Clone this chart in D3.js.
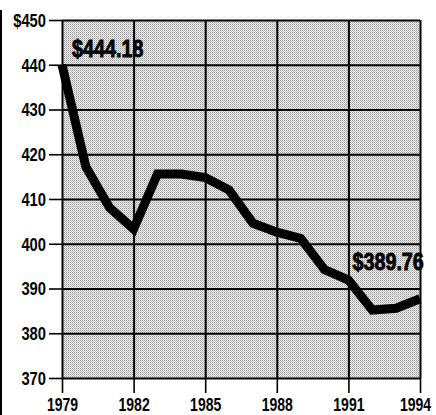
<!DOCTYPE html>
<html><head><meta charset="utf-8">
<script src="https://cdn.jsdelivr.net/npm/d3@7"></script>
<style>
html,body{margin:0;padding:0;background:#fff;}
svg{display:block;}
.lbl{font-family:"Liberation Sans",Arial,sans-serif;}
</style></head>
<body>
<svg id="c" width="436" height="415"></svg>
<script>
const years = [1979,1980,1981,1982,1983,1984,1985,1986,1987,1988,1989,1990,1991,1992,1993,1994];
const values = [440,417.2,408,403.3,415.6,415.6,414.8,412,404.6,402.6,401.2,394.2,391.9,385.2,385.6,387.7];
const yTicks = [370,380,390,400,410,420,430,440,450];
const xTicks = [1979,1982,1985,1988,1991,1994];
const annotations = [
  {year:1979, value:440, text:"$444.18"},
  {year:1991, value:391.9, text:"$389.76"}
];

const svg = d3.select("#c");
const L=62, R=420, T=20, B=378;
const x = d3.scaleLinear().domain([1979,1994]).range([L,R]);
const y = d3.scaleLinear().domain([370,450]).range([B,T]);

// left scan edge
svg.append("line").attr("x1",1).attr("x2",1).attr("y1",10).attr("y2",415)
  .attr("stroke","#000").attr("stroke-width",2);

// pattern background
const defs = svg.append("defs");
const pat = defs.append("pattern").attr("id","dots").attr("patternUnits","userSpaceOnUse")
  .attr("width",2).attr("height",2);
pat.append("rect").attr("width",2).attr("height",2).attr("fill","#efefef");
pat.append("rect").attr("x",0).attr("y",0).attr("width",1).attr("height",1).attr("fill","#979797");
pat.append("rect").attr("x",1).attr("y",1).attr("width",1).attr("height",1).attr("fill","#c2c2c2");
svg.append("rect").attr("x",L).attr("y",T).attr("width",R-L).attr("height",B-T).attr("fill","url(#dots)");

// gridlines
svg.append("g").attr("transform",`translate(${L},0)`)
  .call(d3.axisLeft(y).tickValues(yTicks).tickSize(-(R-L)).tickFormat(""))
  .call(g=>g.select(".domain").remove())
  .call(g=>g.selectAll("line").attr("stroke","#000").attr("stroke-width",2));
svg.append("g").attr("transform",`translate(0,${B})`)
  .call(d3.axisBottom(x).tickValues(xTicks).tickSize(-(B-T)).tickFormat(""))
  .call(g=>g.select(".domain").remove())
  .call(g=>g.selectAll("line").attr("stroke","#000").attr("stroke-width",2));

// axes
const fy = 0.82, fx = 0.78, fa = 0.86;
const ya = svg.append("g").attr("transform",`translate(${L},0)`)
  .call(d3.axisLeft(y).tickValues(yTicks).tickSize(13).tickPadding(3)
    .tickFormat(d=> d===450 ? "$"+d : d));
ya.select(".domain").remove();
ya.selectAll("line").attr("stroke","#000").attr("stroke-width",1.6);
ya.selectAll("text").attr("class","lbl").attr("font-size",18).attr("fill","#000")
  .attr("font-weight","bold").attr("dy","0.36em")
  .attr("x", -16/fy).attr("transform",`scale(${fy},1)`);

const xa = svg.append("g").attr("transform",`translate(0,${B})`)
  .call(d3.axisBottom(x).tickValues(xTicks).tickSize(15).tickPadding(5).tickFormat(d3.format("d")));
xa.select(".domain").remove();
xa.selectAll("line").attr("stroke","#000").attr("stroke-width",1.6);
xa.selectAll("text").attr("class","lbl").attr("font-size",18).attr("fill","#000")
  .attr("font-weight","bold").attr("transform",`scale(${fx},1)`);
xa.selectAll(".tick").filter(d=>d===1994).select("text").attr("x",-5/fx);

// data line
const line = d3.line().x((d,i)=>x(years[i])).y(d=>y(d));
svg.append("path").datum(values).attr("d",line).attr("fill","none")
  .attr("stroke","#000").attr("stroke-width",9).attr("stroke-linejoin","miter").attr("stroke-miterlimit",3);

// annotations
svg.selectAll("text.ann").data(annotations).join("text")
  .attr("class","lbl ann")
  .attr("transform",(d,i)=>{
    const tx = i===0 ? x(d.year)+10 : x(d.year)+4;
    const ty = i===0 ? y(d.value)-8 : y(d.value)-10;
    return `translate(${tx},${ty}) scale(${fa},1)`;
  })
  .attr("font-size",23).attr("font-weight","bold").attr("fill","#000")
  .attr("stroke","#000").attr("stroke-width",0.8)
  .text(d=>d.text);
</script>
</body></html>
